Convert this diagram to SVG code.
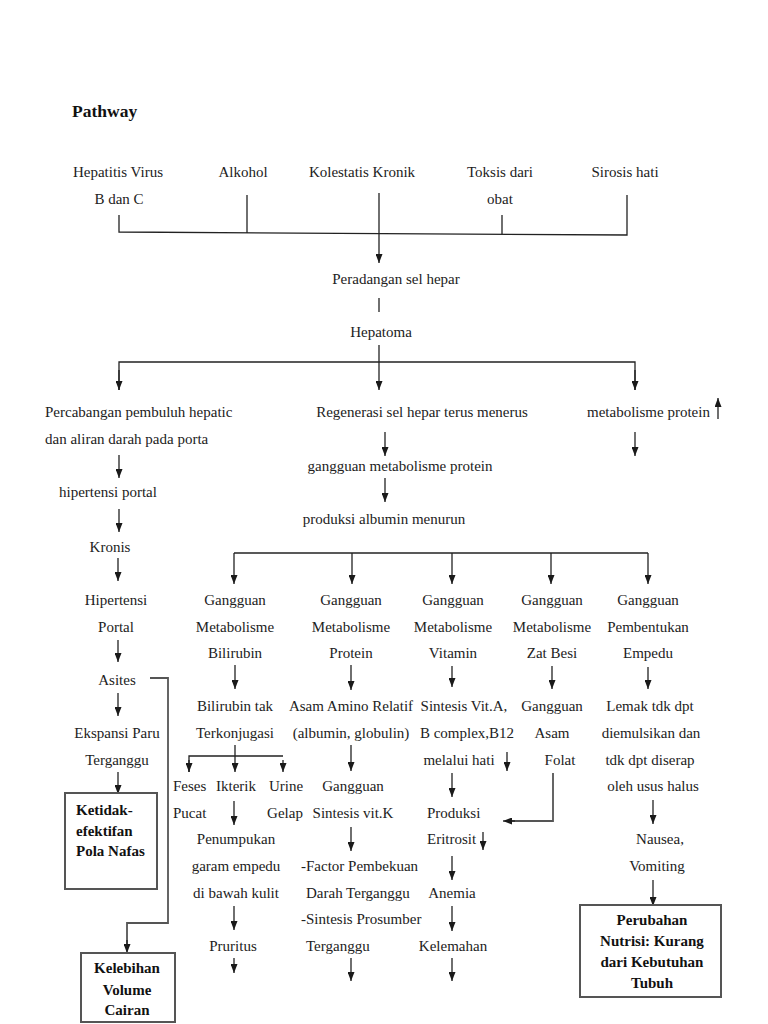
<svg xmlns="http://www.w3.org/2000/svg" width="768" height="1024" viewBox="0 0 768 1024">
<defs>
<marker id="ah" viewBox="0 0 9 7" refX="9" refY="3.5" markerWidth="9" markerHeight="7" markerUnits="userSpaceOnUse" orient="auto">
<path d="M0,0 L9,3.5 L0,7 z" fill="#1a1a1a"/>
</marker>
<style>
text{font-family:"Liberation Serif","Times New Roman",serif;font-size:15px;fill:#222}
.m{text-anchor:middle}
.b{font-weight:bold;fill:#111}
.c{fill:none;stroke:#222;stroke-width:1.3}
.a{fill:none;stroke:#222;stroke-width:1.3;marker-end:url(#ah)}
.g{fill:none;stroke:#555;stroke-width:1.8}
.box{fill:#fff;stroke:#555;stroke-width:2}
</style>
</defs>
<rect width="768" height="1024" fill="#fff"/>
<text x="72" y="117" class="b" style="font-size:17.5px">Pathway</text>

<g id="connectors">
<path class="c" d="M119,215 V232 L627,235 V195"/>
<path class="c" d="M247,195 V233"/>
<path class="c" d="M502,215 V234"/>
<path class="a" d="M379,193 V263"/>
<path class="c" d="M379,298 V312"/>
<path class="c" d="M119,390 V362 H635 V390"/>
<path class="a" d="M119,370 V390"/>
<path class="a" d="M635,370 V390"/>
<path class="a" d="M379,345 V390"/>
<path class="a" d="M718,419 V398"/>
<path class="a" d="M635,432 V456"/>
<path class="a" d="M385,432 V456"/>
<path class="a" d="M385,478 V502"/>
<path class="a" d="M119,455 V478"/>
<path class="a" d="M119,509 V532"/>
<path class="a" d="M118,558 V581"/>
<path class="a" d="M118,640 V662"/>
<path class="a" d="M118,693 V716"/>
<path class="a" d="M118,772 V794"/>
<path class="g" d="M150,678 H168 V923 H127 V945"/>
<path class="a" d="M127,940 V953"/>
<path class="c" d="M234,553 H648"/>
<path class="a" d="M234,553 V584"/>
<path class="a" d="M352,553 V584"/>
<path class="a" d="M452,553 V584"/>
<path class="a" d="M551,553 V584"/>
<path class="a" d="M648,553 V584"/>
<path class="a" d="M235,665 V689"/>
<path class="c" d="M235,745 V756 M189,772 V756 H283"/>
<path class="a" d="M189,760 V772"/>
<path class="a" d="M235,756 V772"/>
<path class="a" d="M283,760 V772"/>
<path class="a" d="M234,801 V825"/>
<path class="a" d="M234,906 V930"/>
<path class="a" d="M234,958 V973"/>
<path class="a" d="M351,665 V690"/>
<path class="a" d="M351,745 V771"/>
<path class="a" d="M351,827 V851"/>
<path class="a" d="M351,958 V981"/>
<path class="a" d="M452,666 V687"/>
<path class="a" d="M507,752 V771"/>
<path class="a" d="M452,773 V797"/>
<path class="a" d="M483,832 V850"/>
<path class="a" d="M452,856 V880"/>
<path class="a" d="M452,906 V931"/>
<path class="a" d="M452,958 V981"/>
<path class="a" d="M552,666 V689"/>
<path class="g" d="M553,773 V821 H512"/>
<path class="a" d="M515,821 H503"/>
<path class="a" d="M648,667 V689"/>
<path class="a" d="M653,800 V824"/>
<path class="a" d="M653,880 V906"/>
</g>

<g id="n-hepatitis"><text x="118" y="177" class="m">Hepatitis Virus</text><text x="119" y="204" class="m">B dan C</text></g>
<g id="n-alkohol"><text x="243" y="177" class="m">Alkohol</text></g>
<g id="n-kolestatis"><text x="362" y="177" class="m">Kolestatis Kronik</text></g>
<g id="n-toksis"><text x="500" y="177" class="m">Toksis dari</text><text x="500" y="204" class="m">obat</text></g>
<g id="n-sirosis"><text x="625" y="177" class="m">Sirosis hati</text></g>
<g id="n-peradangan"><text x="396" y="284" class="m">Peradangan sel hepar</text></g>
<g id="n-hepatoma"><text x="381" y="337" class="m">Hepatoma</text></g>
<g id="n-percabangan"><text x="45" y="417">Percabangan pembuluh hepatic</text><text x="45" y="444">dan aliran darah pada porta</text></g>
<g id="n-regenerasi"><text x="422" y="417" class="m">Regenerasi sel hepar terus menerus</text></g>
<g id="n-metprotein"><text x="587" y="417">metabolisme protein</text></g>
<g id="n-gangguanmet"><text x="400" y="471" class="m">gangguan metabolisme protein</text></g>
<g id="n-produksialb"><text x="384" y="524" class="m">produksi albumin menurun</text></g>
<g id="n-hipertensiportal"><text x="108" y="497" class="m">hipertensi portal</text></g>
<g id="n-kronis"><text x="110" y="552" class="m">Kronis</text></g>
<g id="n-hipertensi"><text x="116" y="605" class="m">Hipertensi</text><text x="116" y="632" class="m">Portal</text></g>
<g id="n-asites"><text x="117" y="685" class="m">Asites</text></g>
<g id="n-ekspansi"><text x="117" y="738" class="m">Ekspansi Paru</text><text x="117" y="765" class="m">Terganggu</text></g>
<g id="n-ketidak"><rect x="65" y="793" width="92" height="96" class="box"/><text x="76" y="815" class="b">Ketidak-</text><text x="76" y="836" class="b">efektifan</text><text x="76" y="856" class="b">Pola Nafas</text></g>
<g id="n-kelebihan"><rect x="81" y="953" width="94" height="69" class="box"/><text x="127" y="973" class="b m">Kelebihan</text><text x="127" y="995" class="b m">Volume</text><text x="127" y="1015" class="b m">Cairan</text></g>

<g id="n-bilirubin"><text x="235" y="605" class="m">Gangguan</text><text x="235" y="632" class="m">Metabolisme</text><text x="235" y="658" class="m">Bilirubin</text></g>
<g id="n-biliruibintak"><text x="235" y="711" class="m">Bilirubin tak</text><text x="235" y="738" class="m">Terkonjugasi</text></g>
<g id="n-feses"><text x="173" y="791">Feses</text><text x="173" y="818">Pucat</text></g>
<g id="n-ikterik"><text x="236" y="791" class="m">Ikterik</text></g>
<g id="n-urine"><text x="286" y="791" class="m">Urine</text><text x="285" y="818" class="m">Gelap</text></g>
<g id="n-penumpukan"><text x="236" y="844" class="m">Penumpukan</text><text x="236" y="871" class="m">garam empedu</text><text x="236" y="898" class="m">di bawah kulit</text></g>
<g id="n-pruritus"><text x="233" y="951" class="m">Pruritus</text></g>

<g id="n-protein"><text x="351" y="605" class="m">Gangguan</text><text x="351" y="632" class="m">Metabolisme</text><text x="351" y="658" class="m">Protein</text></g>
<g id="n-asamamino"><text x="351" y="711" class="m">Asam Amino Relatif</text><text x="351" y="738" class="m">(albumin, globulin)</text></g>
<g id="n-vitk"><text x="353" y="791" class="m">Gangguan</text><text x="353" y="818" class="m">Sintesis vit.K</text></g>
<g id="n-factor"><text x="301" y="871">-Factor Pembekuan</text><text x="306" y="898">Darah Terganggu</text><text x="301" y="924">-Sintesis Prosumber</text><text x="306" y="951">Terganggu</text></g>

<g id="n-vitamin"><text x="453" y="605" class="m">Gangguan</text><text x="453" y="632" class="m">Metabolisme</text><text x="453" y="658" class="m">Vitamin</text></g>
<g id="n-sintesisvit"><text x="464" y="711" class="m">Sintesis Vit.A,</text><text x="467" y="738" class="m">B complex,B12</text><text x="459" y="765" class="m">melalui hati</text></g>
<g id="n-eritrosit"><text x="427" y="818">Produksi</text><text x="427" y="844">Eritrosit</text></g>
<g id="n-anemia"><text x="452" y="898" class="m">Anemia</text></g>
<g id="n-kelemahan"><text x="453" y="951" class="m">Kelemahan</text></g>

<g id="n-zatbesi"><text x="552" y="605" class="m">Gangguan</text><text x="552" y="632" class="m">Metabolisme</text><text x="552" y="658" class="m">Zat Besi</text></g>
<g id="n-folat"><text x="552" y="711" class="m">Gangguan</text><text x="552" y="738" class="m">Asam</text><text x="560" y="765" class="m">Folat</text></g>

<g id="n-empedu"><text x="648" y="605" class="m">Gangguan</text><text x="648" y="632" class="m">Pembentukan</text><text x="648" y="658" class="m">Empedu</text></g>
<g id="n-lemak"><text x="650" y="711" class="m">Lemak tdk dpt</text><text x="651" y="738" class="m">diemulsikan dan</text><text x="650" y="765" class="m">tdk dpt diserap</text><text x="653" y="791" class="m">oleh usus halus</text></g>
<g id="n-nausea"><text x="660" y="844" class="m">Nausea,</text><text x="657" y="871" class="m">Vomiting</text></g>
<g id="n-perubahan"><rect x="580" y="905" width="141" height="92" class="box"/><text x="652" y="925" class="b m">Perubahan</text><text x="652" y="946" class="b m">Nutrisi: Kurang</text><text x="652" y="967" class="b m">dari Kebutuhan</text><text x="652" y="988" class="b m">Tubuh</text></g>
</svg>
